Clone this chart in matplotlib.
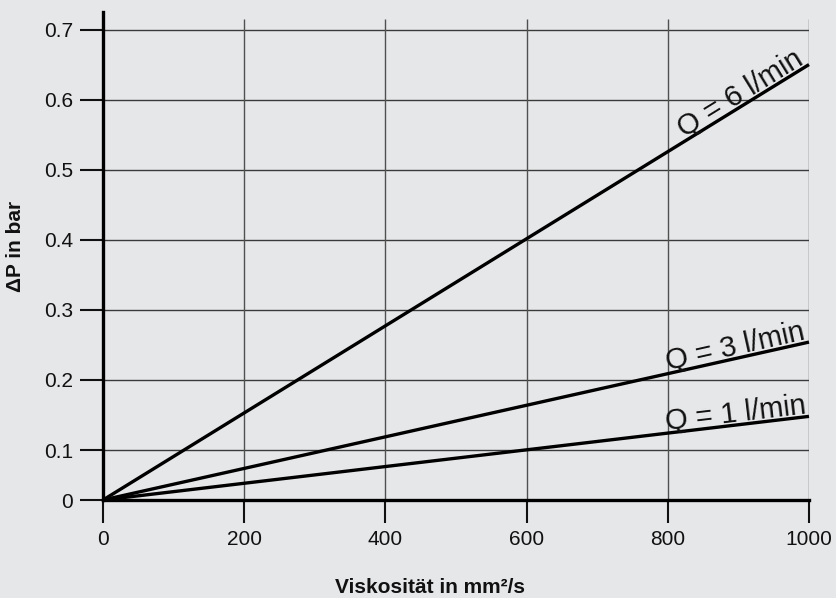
import numpy as np
import matplotlib.pyplot as plt
from matplotlib.transforms import offset_copy

plt.rcParams['font.family'] = ['Liberation Sans', 'DejaVu Sans']

# Daten
viskositaet = [0, 1000]
dp_q1 = [0, 0.148]
dp_q3 = [0, 0.254]
dp_q6 = [0, 0.65]
kurven = [dp_q1, dp_q3, dp_q6]
namen = ['Q = 1 l/min', 'Q = 3 l/min', 'Q = 6 l/min']

x_ticks = [0, 200, 400, 600, 800, 1000]
y_ticks = [0, 0.1, 0.2, 0.3, 0.4, 0.5, 0.6, 0.7]
y_tick_labels = ['0', '0.1', '0.2', '0.3', '0.4', '0.5', '0.6', '0.7']

bg = '#e6e7e9'


# y-Achse ist im Original unten (0..0.1) gestaucht
def fwd(y):
    y = np.asarray(y, dtype=float)
    return np.where(y <= 0.1, y * 5.0, 0.5 + (y - 0.1) * 7.01)


def inv(u):
    u = np.asarray(u, dtype=float)
    return np.where(u <= 0.5, u / 5.0, 0.1 + (u - 0.5) / 7.01)


fig = plt.figure(figsize=(8.36, 5.98), dpi=100, facecolor=bg)
ax = fig.add_axes([103 / 836, 1 - 500 / 598, 706 / 836, 488 / 598])
ax.set_facecolor(bg)
ax.set_yscale('function', functions=(fwd, inv))
ax.set_xlim(0, 1000)
ax.set_ylim(0, 0.725)

# Gitter
for yt in y_ticks[1:]:
    ax.plot([0, 1000], [yt, yt], color='#3a3a3a', lw=1.0, zorder=1, solid_capstyle='butt')
for xt in x_ticks[1:]:
    ax.plot([xt, xt], [0, 0.715], color='#505050', lw=1.0, zorder=1, solid_capstyle='butt')

for k in kurven:
    ax.plot(viskositaet, k, color='black', lw=2.4, zorder=3, solid_capstyle='butt', clip_on=False)

for s in ['top', 'right']:
    ax.spines[s].set_visible(False)
for s in ['left', 'bottom']:
    ax.spines[s].set_linewidth(2.4)
    ax.spines[s].set_zorder(4)

ax.set_xticks(x_ticks)
ax.set_yticks(y_ticks)
ax.set_yticklabels(y_tick_labels)
ax.minorticks_off()
ax.tick_params(direction='out', length=16.5, width=1.5, labelsize=15, pad=5, colors='#111111')

# Beschriftung der Kurven entlang der Linien
for k, name in zip(kurven, namen):
    p0 = ax.transData.transform((viskositaet[0], k[0]))
    p1 = ax.transData.transform((viskositaet[1], k[1]))
    winkel = np.degrees(np.arctan2(p1[1] - p0[1], p1[0] - p0[0]))
    p = p0 + 0.997 * (p1 - p0)
    xd, yd = ax.transData.inverted().transform(p)
    off = 3
    tr = offset_copy(ax.transData, fig=fig, x=-np.sin(np.radians(winkel)) * off,
                     y=np.cos(np.radians(winkel)) * off, units='dots')
    ax.text(xd, yd, name, transform=tr, rotation=winkel, rotation_mode='anchor',
            ha='right', va='baseline', fontsize=21, color='#111111', zorder=5)

fig.text(16 / 836, 1 - 246 / 598, 'ΔP in bar', rotation=90, ha='center', va='center',
         fontsize=15, fontweight='bold', color='#111111')
fig.text(430 / 836, 1 - 593 / 598, 'Viskosität in mm²/s', ha='center', va='baseline',
         fontsize=15, fontweight='bold', color='#111111')

fig.savefig('out.png', dpi=100, facecolor=bg)
